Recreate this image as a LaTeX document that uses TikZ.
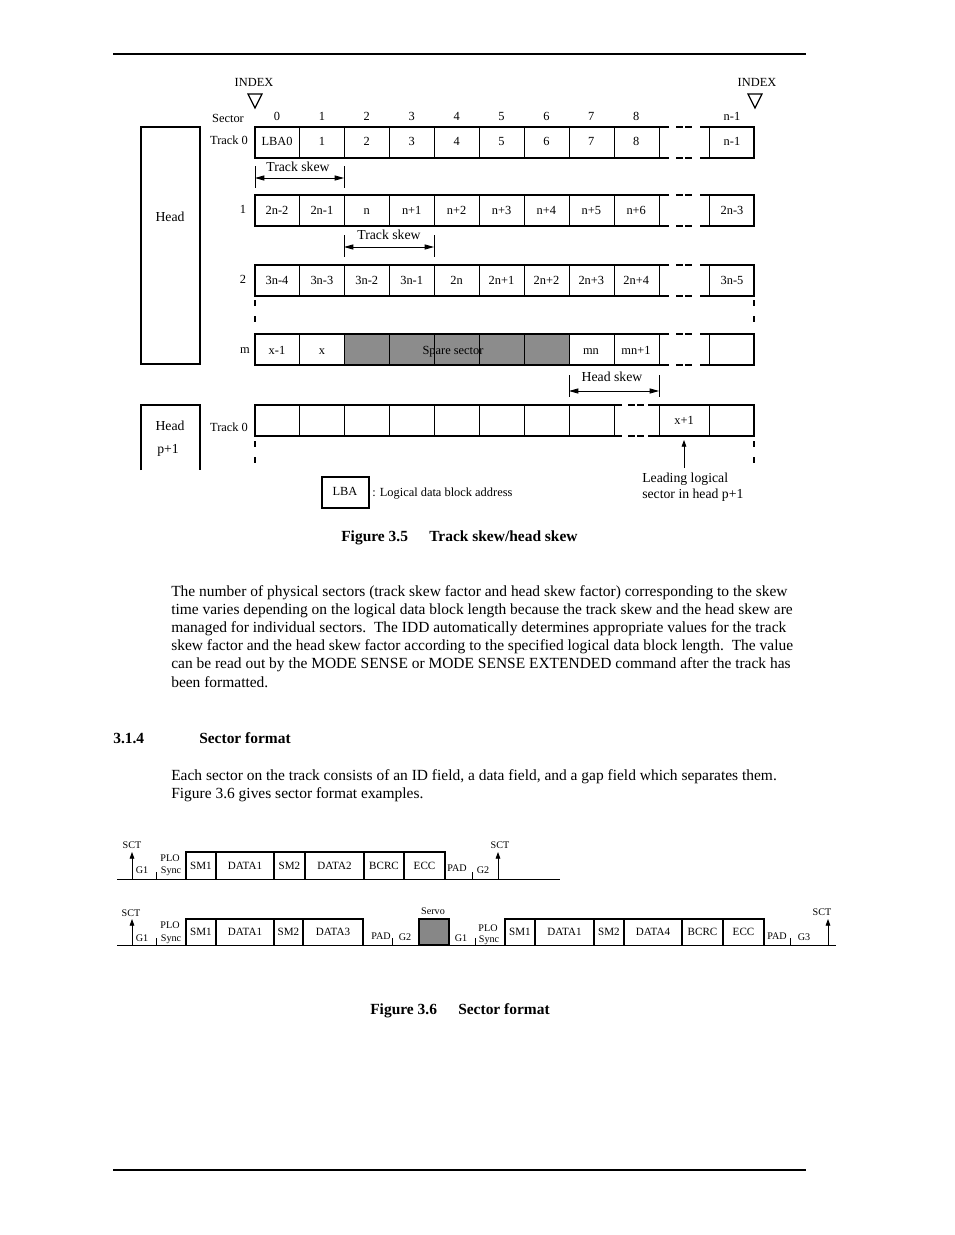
\documentclass[tikz,border=0pt]{standalone}
\usepackage{fontspec}
\setmainfont{Liberation Serif}
\usepackage{tikz}
\usetikzlibrary{arrows.meta,positioning}
\tikzset{
  celltext/.style={inner sep=0pt, text height=0.7em, text depth=0.2em, font=\fontsize{9.3}{11}\selectfont},
  sidetext/.style={inner sep=0pt, text height=0.7em, text depth=0.2em, font=\fontsize{10.3}{12}\selectfont},
  notetext/.style={inner sep=0pt, align=left, font=\fontsize{10.3}{12}\selectfont},
  bodytext/.style={anchor=base west, inner sep=0pt, font=\fontsize{11.6}{13.5}\selectfont},
  captext/.style={anchor=base west, inner sep=0pt, font=\fontsize{11.6}{13.5}\selectfont\bfseries},
  fieldtext/.style={inner sep=0pt, text height=0.7em, text depth=0.2em, font=\fontsize{8.3}{10}\selectfont},
  gaptext/.style={inner sep=0pt, text height=0.7em, text depth=0.2em, font=\fontsize{7.6}{8}\selectfont},
  trackline/.style={line width=1.1pt},
  cellline/.style={line width=0.6pt},
  breakmark/.style={line width=1.6pt, dash pattern=on 5.25pt off 1.5pt},
  levelmark/.style={line width=1.6pt, dash pattern=on 4.5pt off 7.5pt},
  skewarrow/.style={{Triangle[length=7pt,width=3.8pt]}-{Triangle[length=7pt,width=3.8pt]}, line width=0.6pt},
  sctarrow/.style={-{Triangle[length=5pt,width=3.5pt]}, line width=0.6pt},
  fieldbox/.style={line width=0.9pt},
  headbox/.style={line width=1.4pt}
}

\begin{document}
\begin{tikzpicture}[x=0.75pt, y=-0.75pt]
  \useasboundingbox (0,0) rectangle (954,1235);

  % page rules
  \draw[line width=0.8pt] (113,54) -- (806,54);
  \draw[line width=1.5pt] (113,1170) -- (806,1170);

  % ---- Figure 3.5 ----
  \node[celltext] (idxl) at (254,83) {INDEX};
  \node[celltext] (idxr) at (757,83) {INDEX};
  \draw[line width=0.9pt] (248,94) -- (262,94) -- (255,108) -- cycle;
  \draw[line width=0.9pt] (748,94) -- (762,94) -- (755,108) -- cycle;

  \draw[headbox] (141,127) rectangle (200,364);
  \node[sidetext] (headA) at (170,218) {Head};
  \draw[headbox] (141,470) -- (141,405) -- (200,405) -- (200,470);
  \node[sidetext] (headB) at (170,427) {Head};
  \node[sidetext] (headBn) at (168,450) {p+1};

  \node[celltext] (sect) at (228,119) {Sector};
  \node[celltext] (trk0) at (229,141) {Track 0};
  \node[celltext] (trk1) at (243,210) {1};
  \node[celltext] (trk2) at (243,280) {2};
  \node[celltext] (trkm) at (245,350) {m};
  \node[celltext] (trkp) at (229,428) {Track 0};

  \fill[black!45] (344,334) rectangle (569,365);

  \foreach \ty in {127,195,265,334} {
    \draw[trackline] (669,\ty) -- (255,\ty) -- (255,\ty+31) -- (669,\ty+31);
    \draw[trackline] (700,\ty) -- (754,\ty) -- (754,\ty+31) -- (700,\ty+31);
    \draw[breakmark] (676,\ty) -- (692,\ty) (676,\ty+31) -- (692,\ty+31);
    \foreach \cx in {299,344,389,434,479,524,569,614,659,709}
      \draw[cellline] (\cx,\ty) -- (\cx,\ty+31);
  }
  % track 0 of head p+1
  \draw[trackline] (622,405) -- (255,405) -- (255,436) -- (622,436);
  \draw[trackline] (648,405) -- (754,405) -- (754,436) -- (648,436);
  \draw[breakmark] (628,405) -- (644,405) (628,436) -- (644,436);
  \foreach \cx in {299,344,389,434,479,524,569,614,659,709}
    \draw[cellline] (\cx,405) -- (\cx,436);

  \foreach \lab [count=\i from 0] in {0,1,2,3,4,5,6,7,8}
    \node[celltext] (sn\i) at ({277+44.9*\i},117) {\lab};
  \node[celltext] (snlast) at (732,117) {n-1};

  \foreach \lab [count=\i from 0] in {LBA0,1,2,3,4,5,6,7,8}
    \node[celltext] (ra\i) at ({277+44.9*\i},142) {\lab};
  \node[celltext] (ralast) at (732,142) {n-1};

  \foreach \lab [count=\i from 0] in {2n-2,2n-1,n,n+1,n+2,n+3,n+4,n+5,n+6}
    \node[celltext] (rb\i) at ({277+44.9*\i},211) {\lab};
  \node[celltext] (rblast) at (732,211) {2n-3};

  \foreach \lab [count=\i from 0] in {3n-4,3n-3,3n-2,3n-1,2n,2n+1,2n+2,2n+3,2n+4}
    \node[celltext] (rc\i) at ({277+44.9*\i},281) {\lab};
  \node[celltext] (rclast) at (732,281) {3n-5};

  \node[celltext] (rm0) at (277,351) {x-1};
  \node[celltext] (rm1) at (322,351) {x};
  \node[celltext] (spare) at (453,351) {Spare sector};
  \draw[cellline] (434,334) -- (434,365) (479,334) -- (479,365);
  \node[celltext] (rm7) at (591,351) {mn};
  \node[celltext] (rm8) at (636,351) {mn+1};
  \node[celltext] (rp) at (684,421) {x+1};

  % skew dimensions
  \coordinate (tsa) at (255,178);
  \coordinate (tsb) at (344,178);
  \draw[cellline] (255,166) -- (255,188) (344,166) -- (344,188);
  \draw[skewarrow] (tsa) -- (tsb);
  \node[sidetext] (tslabA) at (298,168) {Track skew};

  \coordinate (tsc) at (344,247);
  \coordinate (tsd) at (434,247);
  \draw[cellline] (344,235) -- (344,257) (434,235) -- (434,257);
  \draw[skewarrow] (tsc) -- (tsd);
  \node[sidetext] (tslabB) at (389,236) {Track skew};

  \coordinate (hsa) at (569,391);
  \coordinate (hsb) at (659,391);
  \draw[cellline] (569,375) -- (569,397) (659,375) -- (659,397);
  \draw[skewarrow] (hsa) -- (hsb);
  \node[sidetext] (hslab) at (612,378) {Head skew};

  % continuation marks
  \foreach \mx in {255,754} {
    \draw[levelmark] (\mx,300) -- (\mx,323);
    \draw[levelmark] (\mx,441) -- (\mx,464);
  }

  \coordinate (leadfoot) at (684,468);
  \draw[sctarrow] (leadfoot) -- (684,440);
  \node[notetext, anchor=west] (lead) at (642,487) {Leading logical\\sector in head p+1};

  \draw[headbox] (322,477) rectangle (369,508);
  \node[celltext] (lbakey) at (345,492) {LBA};
  \node[celltext, anchor=west] (lbatext) at (372,493) {: Logical data block address};

  \node[captext] (capA) at (341,541) {Figure 3.5};
  \node[captext] (capAt) at (429,541) {Track skew/head skew};

  % ---- text ----
  \foreach \txt [count=\i from 0] in {
    {The number of physical sectors (track skew factor and head skew factor) corresponding to the skew},
    {time varies depending on the logical data block length because the track skew and the head skew are},
    {managed for individual sectors.\ \ The IDD automatically determines appropriate values for the track},
    {skew factor and the head skew factor according to the specified logical data block length.\ \ The value},
    {can be read out by the MODE SENSE or MODE SENSE EXTENDED command after the track has},
    {been formatted.}}
    \node[bodytext] (para\i) at (171,{596+18.2*\i}) {\txt};

  \node[captext] (secnum) at (113,743) {3.1.4};
  \node[captext] (sectitle) at (199,743) {Sector format};
  \node[bodytext] (parb0) at (171,780) {Each sector on the track consists of an ID field, a data field, and a gap field which separates them.};
  \node[bodytext] (parb1) at (171,798) {Figure 3.6 gives sector format examples.};

  % ---- Figure 3.6, first format ----
  \draw[line width=0.7pt] (117,879) -- (560,879);
  \draw[fieldbox] (186,879) -- (186,852) -- (445,852) -- (445,879);
  \foreach \cx in {216,274,305,364,404}
    \draw[fieldbox] (\cx,852) -- (\cx,879);
  \node[fieldtext] (fa1) at (201,866) {SM1};
  \node[fieldtext] (fa2) at (245,866) {DATA1};
  \node[fieldtext] (fa3) at (289.5,866) {SM2};
  \node[fieldtext] (fa4) at (334.5,866) {DATA2};
  \node[fieldtext] (fa5) at (384,866) {BCRC};
  \node[fieldtext] (fa6) at (424.5,866) {ECC};

  \coordinate (sctA) at (132,879);
  \draw[sctarrow] (sctA) -- (132,852);
  \node[gaptext] (sctAl) at (132,845) {SCT};
  \node[gaptext] (ga1) at (142,870) {G1};
  \draw[cellline] (156,872) -- (156,879);
  \node[gaptext] (ploA) at (170,858) {PLO};
  \node[gaptext] (syncA) at (171,870) {Sync};
  \node[gaptext] (padA) at (457,868) {PAD};
  \draw[cellline] (472,872) -- (472,879);
  \node[gaptext] (ga2) at (483,870) {G2};
  \coordinate (sctB) at (498,879);
  \draw[sctarrow] (sctB) -- (498,852);
  \node[gaptext] (sctBl) at (500,845) {SCT};

  % ---- Figure 3.6, second format ----
  \draw[line width=0.7pt] (117,945) -- (836,945);
  \draw[fieldbox] (186,945) -- (186,919) -- (363,919) -- (363,945);
  \foreach \cx in {216,274,303}
    \draw[fieldbox] (\cx,919) -- (\cx,945);
  \node[fieldtext] (fb1) at (201,932) {SM1};
  \node[fieldtext] (fb2) at (245,932) {DATA1};
  \node[fieldtext] (fb3) at (288.5,932) {SM2};
  \node[fieldtext] (fb4) at (333,932) {DATA3};

  \coordinate (sctC) at (132,945);
  \draw[sctarrow] (sctC) -- (132,919);
  \node[gaptext] (sctCl) at (131,913) {SCT};
  \node[gaptext] (gb1) at (142,938) {G1};
  \draw[cellline] (156,938) -- (156,945);
  \node[gaptext] (ploB) at (170,925) {PLO};
  \node[gaptext] (syncB) at (171,938) {Sync};
  \node[gaptext] (padB) at (381,936) {PAD};
  \draw[cellline] (392,938) -- (392,945);
  \node[gaptext] (gb2) at (405,937) {G2};

  \draw[fieldbox, fill=black!47] (419,945) rectangle (449,919);
  \node[gaptext] (servo) at (433,911) {Servo};

  \node[gaptext] (gb3) at (461,938) {G1};
  \draw[cellline] (475,938) -- (475,945);
  \node[gaptext] (ploC) at (488,928) {PLO};
  \node[gaptext] (syncC) at (489,939) {Sync};
  \draw[fieldbox] (505,945) -- (505,919) -- (764,919) -- (764,945);
  \foreach \cx in {535,594,624,682,723}
    \draw[fieldbox] (\cx,919) -- (\cx,945);
  \node[fieldtext] (fc1) at (520,932) {SM1};
  \node[fieldtext] (fc2) at (564.5,932) {DATA1};
  \node[fieldtext] (fc3) at (609,932) {SM2};
  \node[fieldtext] (fc4) at (653,932) {DATA4};
  \node[fieldtext] (fc5) at (702.5,932) {BCRC};
  \node[fieldtext] (fc6) at (743.5,932) {ECC};
  \node[gaptext] (padC) at (777,936) {PAD};
  \draw[cellline] (790,938) -- (790,945);
  \node[gaptext] (gb4) at (804,937) {G3};
  \coordinate (sctD) at (828,945);
  \draw[sctarrow] (sctD) -- (828,919);
  \node[gaptext] (sctDl) at (822,912) {SCT};

  \node[captext] (capB) at (370,1014) {Figure 3.6};
  \node[captext] (capBt) at (458,1014) {Sector format};
\end{tikzpicture}
\end{document}
